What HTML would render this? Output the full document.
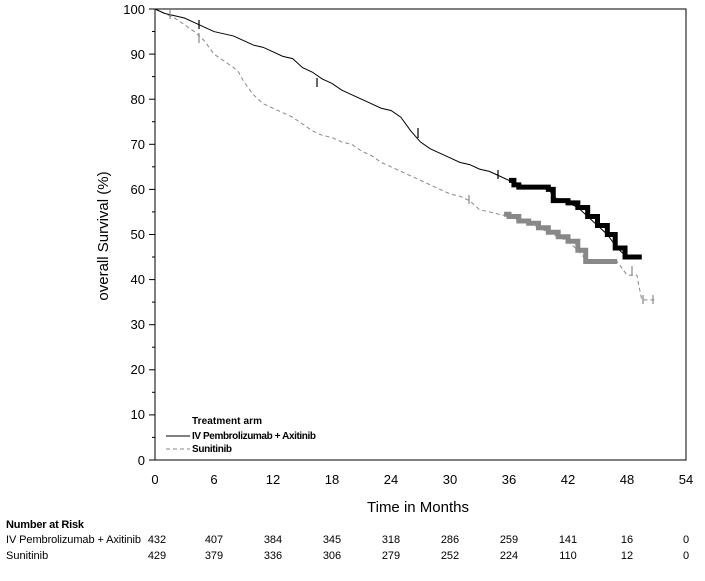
<!DOCTYPE html>
<html><head><style>
body{margin:0;background:#fff;width:705px;height:576px;overflow:hidden}
svg{font-family:"Liberation Sans",sans-serif}
</style></head><body>
<svg width="705" height="576" xmlns="http://www.w3.org/2000/svg">
<rect x="155" y="9" width="531" height="451" fill="none" stroke="#000" stroke-width="1"/>
<g stroke="#000" stroke-width="1">
<line x1="149" y1="9" x2="155" y2="9"/><line x1="149" y1="54.1" x2="155" y2="54.1"/><line x1="149" y1="99.2" x2="155" y2="99.2"/><line x1="149" y1="144.3" x2="155" y2="144.3"/><line x1="149" y1="189.4" x2="155" y2="189.4"/><line x1="149" y1="234.5" x2="155" y2="234.5"/><line x1="149" y1="279.6" x2="155" y2="279.6"/><line x1="149" y1="324.7" x2="155" y2="324.7"/><line x1="149" y1="369.8" x2="155" y2="369.8"/><line x1="149" y1="414.9" x2="155" y2="414.9"/><line x1="149" y1="460" x2="155" y2="460"/>
<line x1="152" y1="31.5" x2="155" y2="31.5"/><line x1="152" y1="76.6" x2="155" y2="76.6"/><line x1="152" y1="121.7" x2="155" y2="121.7"/><line x1="152" y1="166.8" x2="155" y2="166.8"/><line x1="152" y1="211.9" x2="155" y2="211.9"/><line x1="152" y1="257" x2="155" y2="257"/><line x1="152" y1="302.1" x2="155" y2="302.1"/><line x1="152" y1="347.2" x2="155" y2="347.2"/><line x1="152" y1="392.3" x2="155" y2="392.3"/><line x1="152" y1="437.4" x2="155" y2="437.4"/>
</g>
<g id="xt" stroke="#000" stroke-width="1"></g>
<g font-size="13" text-anchor="end">
<text x="145" y="14">100</text><text x="145" y="59">90</text><text x="145" y="104">80</text><text x="145" y="149">70</text><text x="145" y="194">60</text><text x="145" y="239">50</text><text x="145" y="284">40</text><text x="145" y="329">30</text><text x="145" y="374">20</text><text x="145" y="419">10</text><text x="145" y="465">0</text>
</g>
<g font-size="13" text-anchor="middle">
<text x="155" y="484">0</text><text x="214" y="484">6</text><text x="273" y="484">12</text><text x="332" y="484">18</text><text x="391" y="484">24</text><text x="450" y="484">30</text><text x="509" y="484">36</text><text x="568" y="484">42</text><text x="627" y="484">48</text><text x="686" y="484">54</text>
</g>
<text x="418" y="512" font-size="15" text-anchor="middle">Time in Months</text>
<text transform="translate(108,236) rotate(-90)" font-size="15" text-anchor="middle">overall Survival (%)</text>
<svg x="155" y="9" width="531" height="451" viewBox="0 0 54 100" preserveAspectRatio="none" overflow="visible">
<polyline fill="none" stroke="#888" stroke-width="1" stroke-dasharray="4 3" vector-effect="non-scaling-stroke" points="0,0 1,1 2,2 3,3.5 4,5 5,7 6,10 7,11.5 8,13 8.5,14 9,16 10,19 11,21 12,22 13,23 14,24 15,25.5 16,27 17,28 18,28.5 19,29.5 20,30 21,31.5 22,32.5 23,34 24,35 25,36 26,37 27,38 28,39 29,40 30,41 31,41.5 32,42.5 33,44.5 34,45 35,45.5 36,46 37,47 38,47.5 39,48.5 40,49.5 41,50.5 42,51.5 43,53.5 44,56 47,56 48,59 49,59 49.5,64.5 51,64.5"/>
<polyline fill="none" stroke="#888" stroke-width="5" vector-effect="non-scaling-stroke" points="35.5,45.5 36,45.5 36,46 37,46 37,47 38,47 38,47.5 39,47.5 39,48.5 40,48.5 40,49.5 41,49.5 41,50.5 42,50.5 42,51.5 43,51.5 43,53.5 43.8,53.5 43.8,56 47,56"/>
<polyline fill="none" stroke="#000" stroke-width="1" vector-effect="non-scaling-stroke" points="0,0 1,1 2,1.5 3,2 4,3 5,4 6,5 7,5.5 8,6 9,7 10,8 11,8.5 12,9.5 13,10.5 14,11 15,13 16,14 17,15.5 18,16.5 19,18 20,19 21,20 22,21 23,22 24,22.5 25,24 26,27 27,29.5 28,31 29,32 30,33 31,34 32,34.5 33,35.5 34,36 35,37 36,38 37,39 40,40 41,42.5 42,43 43,44 44,46 45,48 46,50 47,53 48,55 49.5,55"/>
<polyline fill="none" stroke="#000" stroke-width="5" vector-effect="non-scaling-stroke" points="36,38 36.5,38 36.5,39 37,39 37,39.5 40,39.5 40,40 40.5,40 40.5,42.5 42,42.5 42,43 43,43 43,44 44,44 44,46 45,46 45,48 46,48 46,50 46.8,50 46.8,53 47.8,53 47.8,55 49.5,55"/>
</svg>
<g stroke="#000" stroke-width="1.2">
<line x1="199" y1="20" x2="199" y2="29"/><line x1="317" y1="78" x2="317" y2="87"/><line x1="418" y1="128" x2="418" y2="138"/><line x1="498" y1="170" x2="498" y2="179"/>
</g>
<g stroke="#888" stroke-width="1.2">
<line x1="170" y1="10" x2="170" y2="19"/><line x1="199" y1="33" x2="199" y2="43"/><line x1="469" y1="195" x2="469" y2="204"/><line x1="632" y1="266" x2="632" y2="276"/><line x1="643" y1="295" x2="643" y2="304"/><line x1="653" y1="295" x2="653" y2="304"/>
</g>
<line x1="166" y1="436" x2="190" y2="436" stroke="#000" stroke-width="1"/>
<line x1="166" y1="449" x2="190" y2="449" stroke="#888" stroke-width="1" stroke-dasharray="4 3"/>
<g font-size="10" font-weight="bold" font-stretch="condensed">
<text x="192" y="424" textLength="70">Treatment arm</text>
<text x="192" y="439" textLength="124">IV Pembrolizumab + Axitinib</text>
<text x="192" y="452" textLength="40">Sunitinib</text>
</g>
<text x="6" y="528" font-size="11" font-weight="bold" textLength="78">Number at Risk</text>
<text x="6" y="543" font-size="11" textLength="135">IV Pembrolizumab + Axitinib</text>
<text x="6" y="559" font-size="11">Sunitinib</text>
<g font-size="11" text-anchor="middle">
<text x="157" y="543">432</text><text x="214" y="543">407</text><text x="273" y="543">384</text><text x="332" y="543">345</text><text x="391" y="543">318</text><text x="450" y="543">286</text><text x="509" y="543">259</text><text x="568" y="543">141</text><text x="627" y="543">16</text><text x="686" y="543">0</text>
<text x="157" y="559">429</text><text x="214" y="559">379</text><text x="273" y="559">336</text><text x="332" y="559">306</text><text x="391" y="559">279</text><text x="450" y="559">252</text><text x="509" y="559">224</text><text x="568" y="559">110</text><text x="627" y="559">12</text><text x="686" y="559">0</text>
</g>
<script>
var g=document.getElementById('xt'),s='';
for(var i=0;i<=54;i++){var x=155+i*531/54;s+='<line x1="'+x+'" y1="460" x2="'+x+'" y2="'+(460+(i%6?4:7))+'"/>';}
g.innerHTML=s;
</script>
</svg>
</body></html>
